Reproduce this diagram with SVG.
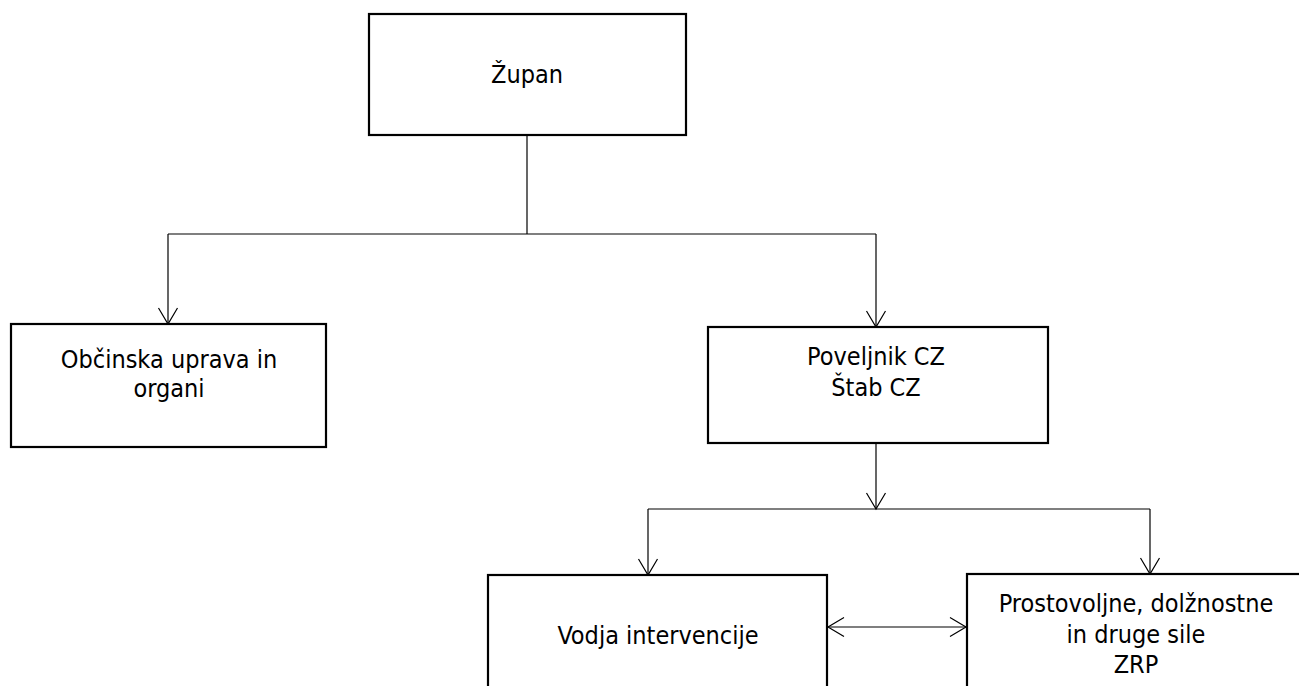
<svg xmlns="http://www.w3.org/2000/svg" width="1299" height="686" viewBox="0 0 1299 686">
<style>
.box{fill:#fff;stroke:#000;stroke-width:2.2}
.lbl{font-family:'DejaVu Sans Condensed','DejaVu Sans','Liberation Sans',sans-serif;font-stretch:condensed;font-size:25px;fill:#000;text-anchor:middle}
.conn{fill:none;stroke:#000;stroke-width:1.2}
</style>
<defs>
<marker id="arr" markerUnits="userSpaceOnUse" viewBox="-18 -11 20 22" refX="0" refY="0" markerWidth="20" markerHeight="22" orient="auto-start-reverse" overflow="visible">
<path d="M-16,-9.5 L0,0 L-16,9.5" fill="none" stroke="#000" stroke-width="1.2"/>
</marker>
</defs>
<rect width="1299" height="686" fill="#fff"/>
<g id="connectors">
<path class="conn" d="M527,135 V234"/>
<path class="conn" d="M168,234 H876"/>
<path class="conn" d="M168,234 V324" marker-end="url(#arr)"/>
<path class="conn" d="M876,234 V327" marker-end="url(#arr)"/>
<path class="conn" d="M876,443 V509" marker-end="url(#arr)"/>
<path class="conn" d="M648,509 H1150"/>
<path class="conn" d="M648,509 V575" marker-end="url(#arr)"/>
<path class="conn" d="M1150,509 V574" marker-end="url(#arr)"/>
<path class="conn" d="M828,627 H966" marker-start="url(#arr)" marker-end="url(#arr)"/>
</g>
<g id="zupan">
<rect class="box" x="369" y="14" width="317" height="121"/>
<text class="lbl" x="527" y="83">Župan</text>
</g>
<g id="obcinska">
<rect class="box" x="11" y="324" width="315" height="123"/>
<text class="lbl" x="169" y="368">Občinska uprava in</text>
<text class="lbl" x="169" y="397">organi</text>
</g>
<g id="poveljnik">
<rect class="box" x="708" y="327" width="340" height="116"/>
<text class="lbl" x="876" y="365">Poveljnik CZ</text>
<text class="lbl" x="876" y="396">Štab CZ</text>
</g>
<g id="vodja">
<rect class="box" x="488" y="575" width="339" height="130"/>
<text class="lbl" x="658" y="644">Vodja intervencije</text>
</g>
<g id="prostovoljne">
<rect class="box" x="967" y="574" width="340" height="130"/>
<text class="lbl" x="1136" y="612">Prostovoljne, dolžnostne</text>
<text class="lbl" x="1136" y="643">in druge sile</text>
<text class="lbl" x="1136" y="673">ZRP</text>
</g>
</svg>
